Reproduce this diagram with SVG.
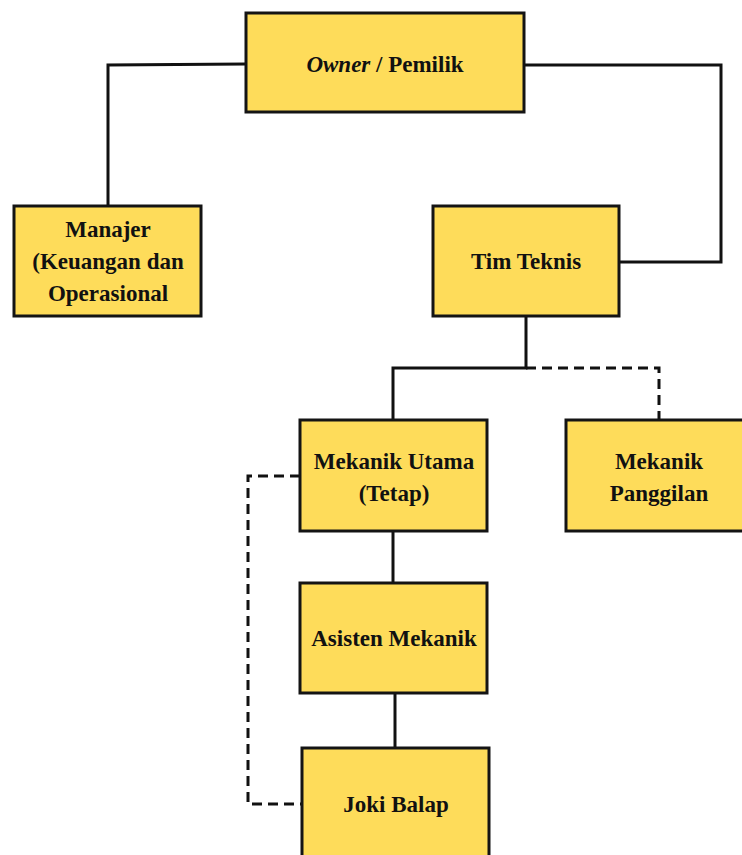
<svg xmlns="http://www.w3.org/2000/svg" width="742" height="855" viewBox="0 0 742 855">
<style>
.box{fill:#FEDC5A;stroke:#141414;stroke-width:3}
.t{font-family:"Liberation Serif","Times New Roman",serif;font-weight:bold;font-size:23px;fill:#111;text-anchor:middle}
.c{fill:none;stroke:#111;stroke-width:3}
.d{fill:none;stroke:#111;stroke-width:3;stroke-dasharray:10 6}
</style>
<rect width="742" height="855" fill="#fff"/>
<g id="connectors">
<path class="c" d="M246 64 L108 65 L108 206"/>
<path class="c" d="M524 65 L721 65 L721 262 L619 262"/>
<path class="c" d="M526 316 L526 368 L393 368 L393 420"/>
<path class="d" d="M526 368 L659 368 L659 420"/>
<path class="c" d="M393 531 L393 583"/>
<path class="c" d="M395 693 L395 748"/>
<path class="d" d="M300 476 L248 476 L248 804 L302 804"/>
</g>
<g id="owner">
<rect class="box" x="246" y="13" width="278" height="99"/>
<text class="t" x="385" y="72"><tspan font-style="italic">Owner</tspan> / Pemilik</text>
</g>
<g id="manajer">
<rect class="box" x="14" y="206" width="187" height="110"/>
<text class="t" x="108" y="237">Manajer</text>
<text class="t" x="108" y="269">(Keuangan dan</text>
<text class="t" x="108" y="301">Operasional</text>
</g>
<g id="tim-teknis">
<rect class="box" x="433" y="206" width="186" height="110"/>
<text class="t" x="526" y="269">Tim Teknis</text>
</g>
<g id="mekanik-utama">
<rect class="box" x="300" y="420" width="187" height="111"/>
<text class="t" x="394" y="469">Mekanik Utama</text>
<text class="t" x="394" y="501">(Tetap)</text>
</g>
<g id="mekanik-panggilan">
<rect class="box" x="566" y="420" width="180" height="111"/>
<text class="t" x="659" y="469">Mekanik</text>
<text class="t" x="659" y="501">Panggilan</text>
</g>
<g id="asisten-mekanik">
<rect class="box" x="300" y="583" width="187" height="110"/>
<text class="t" x="394" y="646">Asisten Mekanik</text>
</g>
<g id="joki-balap">
<rect class="box" x="302" y="748" width="187" height="112"/>
<text class="t" x="396" y="812">Joki Balap</text>
</g>
</svg>
